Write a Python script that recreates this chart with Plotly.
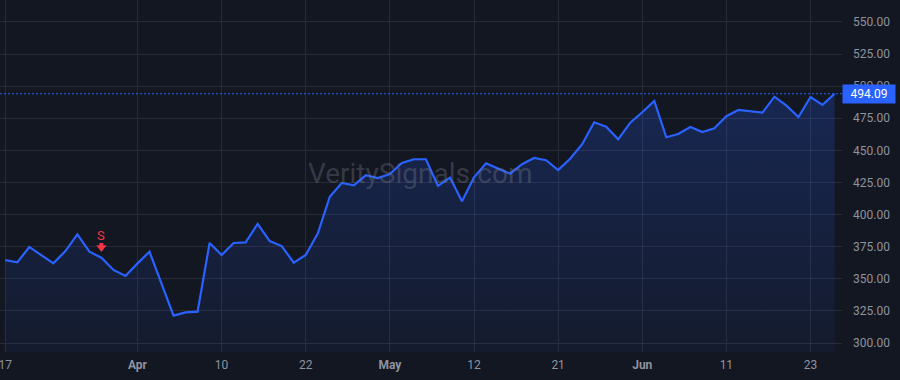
import plotly.graph_objects as go

# ---- data ----
bar_index = list(range(70))
close_prices = [
    364.6, 362.8, 374.8, 368.5, 362.0, 371.6, 384.6, 371.1, 366.4, 356.9,
    352.2, 362.0, 371.1, 346.2, 321.3, 323.9, 324.4, 377.9, 368.5, 377.9,
    378.4, 392.7, 379.4, 375.5, 362.5, 368.5, 385.2, 413.9, 424.6, 422.8,
    430.6, 428.5, 431.6, 440.2, 443.1, 443.1, 422.3, 428.8, 410.4, 429.0,
    439.9, 435.8, 431.9, 439.2, 444.1, 442.3, 434.7, 443.5, 454.8, 471.9,
    468.5, 458.6, 471.6, 479.7, 488.5, 460.2, 462.8, 468.2, 464.3, 467.2,
    476.6, 481.5, 480.5, 479.4, 491.8, 484.8, 476.0, 491.6, 485.4, 494.09,
]
tick_index = [0, 11, 18, 25, 32, 39, 46, 53, 60, 67]
tick_labels = ["17", "<b>Apr</b>", "10", "22", "<b>May</b>", "12", "21",
               "<b>Jun</b>", "11", "23"]
price_ticks = [300, 325, 350, 375, 400, 425, 450, 475, 500, 525, 550]
signal_index = 8
signal_label = "S"
last_price = close_prices[-1]
watermark = "VeritySignals.com"

BG = "#131722"
GRID = "#272b37"
BLUE = "#2962FF"
RED = "#F23645"
TXT = "#8f939e"

Y_RANGE = [293, 567.1]
PLOT_H = 352
units_per_px = (Y_RANGE[1] - Y_RANGE[0]) / PLOT_H

fig = go.Figure()
fig.add_trace(go.Scatter(
    x=bar_index, y=close_prices, mode="lines",
    line=dict(color=BLUE, width=2.2),
    fill="tozeroy",
    fillgradient=dict(type="vertical", start=293, stop=495,
                      colorscale=[[0, "rgba(41,98,255,0.05)"],
                                  [1, "rgba(41,98,255,0.22)"]]),
    hoverinfo="skip", showlegend=False,
))

# sell signal arrow (stem + head), placed a few pixels above the point
sy = close_prices[signal_index]
fig.add_trace(go.Scatter(
    x=[signal_index], y=[sy + 12.7 * units_per_px], mode="markers",
    marker=dict(symbol="square", size=4, color=RED, line=dict(width=0)),
    hoverinfo="skip", showlegend=False))
fig.add_trace(go.Scatter(
    x=[signal_index], y=[sy + 10.2 * units_per_px], mode="markers",
    marker=dict(symbol="triangle-down", size=9, color=RED, line=dict(width=0)),
    hoverinfo="skip", showlegend=False))
fig.add_annotation(x=signal_index, y=sy, text=signal_label, showarrow=False,
                   yshift=22, font=dict(color=RED, size=13, family="Roboto"))

# last price dotted line
fig.add_shape(type="line", xref="paper", x0=0, x1=1, yref="y",
              y0=last_price, y1=last_price,
              line=dict(color=BLUE, width=1, dash="2px,2px"))

# last price label
fig.add_annotation(xref="paper", x=1.0, xanchor="left", yref="y", y=last_price,
                   text=f"{last_price:.2f}", showarrow=False,
                   font=dict(color="white", size=12, family="Roboto"),
                   bgcolor=BLUE, borderpad=2, width=48, align="center")

# watermark
fig.add_annotation(xref="paper", yref="paper", x=0.499, y=0.508,
                   text=watermark, showarrow=False,
                   font=dict(color="rgba(120,124,136,0.36)", size=28,
                             family="Roboto"))

fig.update_layout(
    width=900, height=380,
    margin=dict(l=0, r=58, t=0, b=28),
    paper_bgcolor=BG, plot_bgcolor=BG,
    font=dict(family="Roboto", size=12, color=TXT),
    xaxis=dict(range=[-0.44, 69.62], tickvals=tick_index, ticktext=tick_labels,
               showgrid=True, gridcolor=GRID, gridwidth=1, zeroline=False,
               showline=False, ticks="", ticklabelstandoff=4,
               ticklabeloverflow="allow", fixedrange=True),
    yaxis=dict(range=Y_RANGE, side="right", tickvals=price_ticks,
               ticktext=[f"{v:.2f}" for v in price_ticks],
               showgrid=True, gridcolor=GRID, gridwidth=1, zeroline=False,
               showline=False, ticks="", ticklabelstandoff=10,
               fixedrange=True),
)

fig.write_html("out.html")
